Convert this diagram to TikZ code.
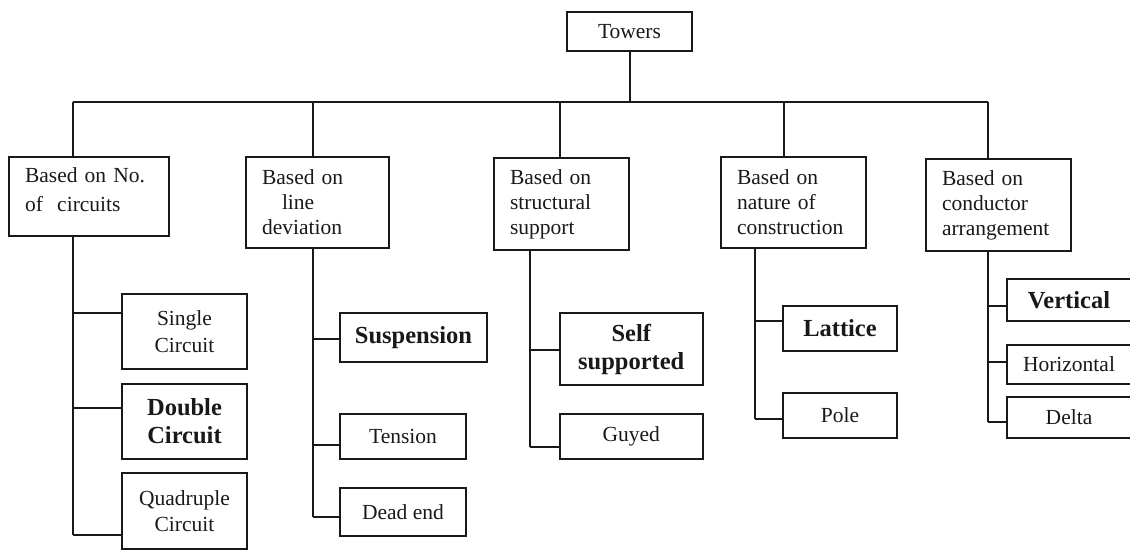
\documentclass[tikz,border=0pt]{standalone}
\usepackage{fontspec}
\setmainfont{Liberation Serif}
\begin{document}
\begin{tikzpicture}[x=1pt,y=-1pt,line width=2pt,black!90,
	every node/.style={draw, rectangle, inner sep=0pt},
	sz/.style 2 args={minimum width=#1pt, minimum height=#2pt},
	catbox/.style 2 args={align=left, text width=#1pt, minimum height=#2pt, inner xsep=16pt, font=\fontsize{21.5}{25}\selectfont},
	leafbox/.style={align=center, font=\fontsize{21.5}{26.5}\selectfont},
	boldbox/.style={align=center, font=\fontsize{24.5}{28}\selectfont\bfseries}]
\useasboundingbox (0,0) rectangle (1130,550);

\node[leafbox, sz={125}{39}] (towers) at (629.5,31.5) {Towers};

% the five groups
\node[catbox={128}{79}, text depth=42pt] (circ) at (89,196.5) {Based on No.\\[4pt]of~~circuits};
\node[catbox={111}{91}] (dev) at (317.5,202.5) {Based on\\\hspace*{20pt}line\\deviation};
\node[catbox={103}{92}] (strc) at (561.5,204) {Based on\\structural\\support};
\node[catbox={113}{91}] (cons) at (793.5,202.5) {Based on\\nature of\\construction};
\node[catbox={113}{92}] (cond) at (998.5,205) {Based on\\conductor\\arrangement};

% leaves
\node[leafbox, sz={125}{75}] (single) at (184.5,331.5) {Single\\Circuit};
\node[boldbox, sz={125}{75}] (double) at (184.5,421.5) {Double\\Circuit};
\node[leafbox, sz={125}{76}] (quad) at (184.5,511) {Quadruple\\Circuit};
\node[boldbox, sz={147}{49}] (susp) at (413.5,337.5) {Suspension};
\node[leafbox, sz={126}{45}] (tens) at (403,436.5) {Tension};
\node[leafbox, sz={126}{48}] (dead) at (403,512) {Dead end};
\node[boldbox, sz={143.5}{72}] (self) at (631.25,349) {Self\\supported};
\node[leafbox, sz={143.5}{45}] (guyed) at (631.25,436.5) {Guyed};
\node[boldbox, sz={114}{45}] (lattice) at (840,328.5) {Lattice};
\node[leafbox, sz={114}{45}] (pole) at (840,415.5) {Pole};
\node[boldbox, sz={124}{42}] (vert) at (1069,300) {Vertical};
\node[leafbox, sz={124}{39}] (horiz) at (1069,364.5) {Horizontal};
\node[leafbox, sz={124}{41}] (delta) at (1069,417.5) {Delta};

% bus under Towers
\coordinate (busL) at (73,101.5);
\coordinate (busR) at (988,101.5);
\draw (towers.south) -- (towers.south |- busL);
\draw (busL) -- (busR);
\foreach[count=\i] \g/\dx in {circ/73, dev/313, strc/560, cons/783.5, cond/988}
{
	\coordinate (d\i) at (\dx,101.5);
	\draw (d\i) -- (d\i |- \g.north);
}

% stems
\coordinate (s1) at (73,0);
\coordinate (s2) at (313,0);
\coordinate (s3) at (530,0);
\coordinate (s4) at (755,0);
\coordinate (s5) at (988,0);
\foreach \leaf/\dy/\s in {single/18.5/s1, double/13.5/s1, quad/-24/s1,
	susp/-1.5/s2, tens/-8.5/s2, dead/-5/s2, self/-1/s3, guyed/-10.5/s3,
	lattice/7.5/s4, pole/-3.5/s4, vert/-6/s5, horiz/2.5/s5, delta/-4.5/s5}
{
	\coordinate (\leaf-b) at ([yshift=\dy pt]\leaf.west);
	\draw (\leaf-b) -- (\leaf-b -| \s);
}
\draw (circ.south -| s1) -- (quad-b -| s1);
\draw (dev.south -| s2) -- (dead-b -| s2);
\draw (strc.south -| s3) -- (guyed-b -| s3);
\draw (cons.south -| s4) -- (pole-b -| s4);
\draw (cond.south -| s5) -- (delta-b -| s5);
\end{tikzpicture}
\end{document}
